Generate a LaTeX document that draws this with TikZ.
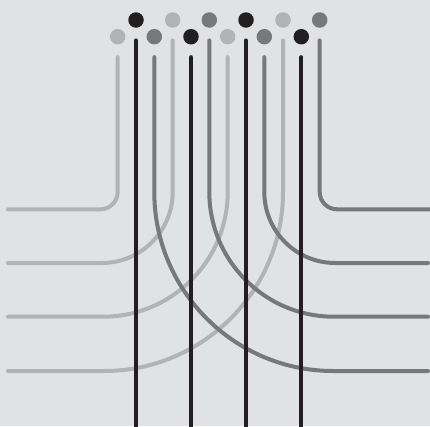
\documentclass[tikz,border=0pt]{standalone}
\usetikzlibrary{calc}
\definecolor{bg}{RGB}{225,226,228}
\definecolor{lgray}{RGB}{178,179,182}
\definecolor{dgray}{RGB}{119,120,123}
\definecolor{ink}{RGB}{35,31,32}
\begin{document}
\begin{tikzpicture}[x=1pt,y=1pt,
  wire/.style={line width=4pt,line cap=round},
  dot/.style={circle,inner sep=0pt,minimum size=15.5pt,draw=none}]
\fill[bg] (0,0) rectangle (430,-426);
\useasboundingbox (0,0) rectangle (430,-426);
% upper row
\node[dot,fill=ink]   (u1) at (136,-20) {};
\node[dot,fill=lgray] (u2) at (172.7,-20) {};
\node[dot,fill=dgray] (u3) at (209.3,-20) {};
\node[dot,fill=ink]   (u4) at (246,-20) {};
\node[dot,fill=lgray] (u5) at (283,-20) {};
\node[dot,fill=dgray] (u6) at (319.7,-20) {};
% lower row
\node[dot,fill=lgray] (l1) at (117.7,-36.7) {};
\node[dot,fill=dgray] (l2) at (154.3,-36.7) {};
\node[dot,fill=ink]   (l3) at (191,-36.7) {};
\node[dot,fill=lgray] (l4) at (227.7,-36.7) {};
\node[dot,fill=dgray] (l5) at (264.3,-36.7) {};
\node[dot,fill=ink]   (l6) at (301.3,-36.7) {};
% light wires (turn left)
\draw[wire,lgray] ($(l1.south)+(0,-12.5)$) -- (117.7,-192) arc[start angle=0,end angle=-90,radius=17.3] -- (8,-209.3);
\draw[wire,lgray] ($(u2.south)+(0,-12.5)$) -- (172.7,-192) arc[start angle=0,end angle=-90,radius=71] -- (8,-263);
\draw[wire,lgray] ($(l4.south)+(0,-12.5)$) -- (227.7,-192) arc[start angle=0,end angle=-90,radius=124.7] -- (8,-316.7);
\draw[wire,lgray] ($(u5.south)+(0,-12.5)$) -- (283,-192) arc[start angle=0,end angle=-90,radius=179] -- (8,-371);
% dark wires (turn right)
\draw[wire,dgray] ($(l2.south)+(0,-12.5)$) -- (154.3,-192) arc[start angle=180,end angle=270,radius=179] -- (428,-371);
\draw[wire,dgray] ($(u3.south)+(0,-12.5)$) -- (209.3,-192) arc[start angle=180,end angle=270,radius=124.7] -- (428,-316.7);
\draw[wire,dgray] ($(l5.south)+(0,-12.5)$) -- (264.3,-192) arc[start angle=180,end angle=270,radius=71] -- (428,-263);
\draw[wire,dgray] ($(u6.south)+(0,-12.5)$) -- (319.7,-192) arc[start angle=180,end angle=270,radius=17.3] -- (432,-209.3);
% black wires (straight down)
\draw[wire,ink] ($(u1.south)+(0,-12.5)$) -- (136,-432);
\draw[wire,ink] ($(l3.south)+(0,-12.5)$) -- (191,-432);
\draw[wire,ink] ($(u4.south)+(0,-12.5)$) -- (246,-432);
\draw[wire,ink] ($(l6.south)+(0,-12.5)$) -- (301.3,-432);
\end{tikzpicture}
\end{document}
